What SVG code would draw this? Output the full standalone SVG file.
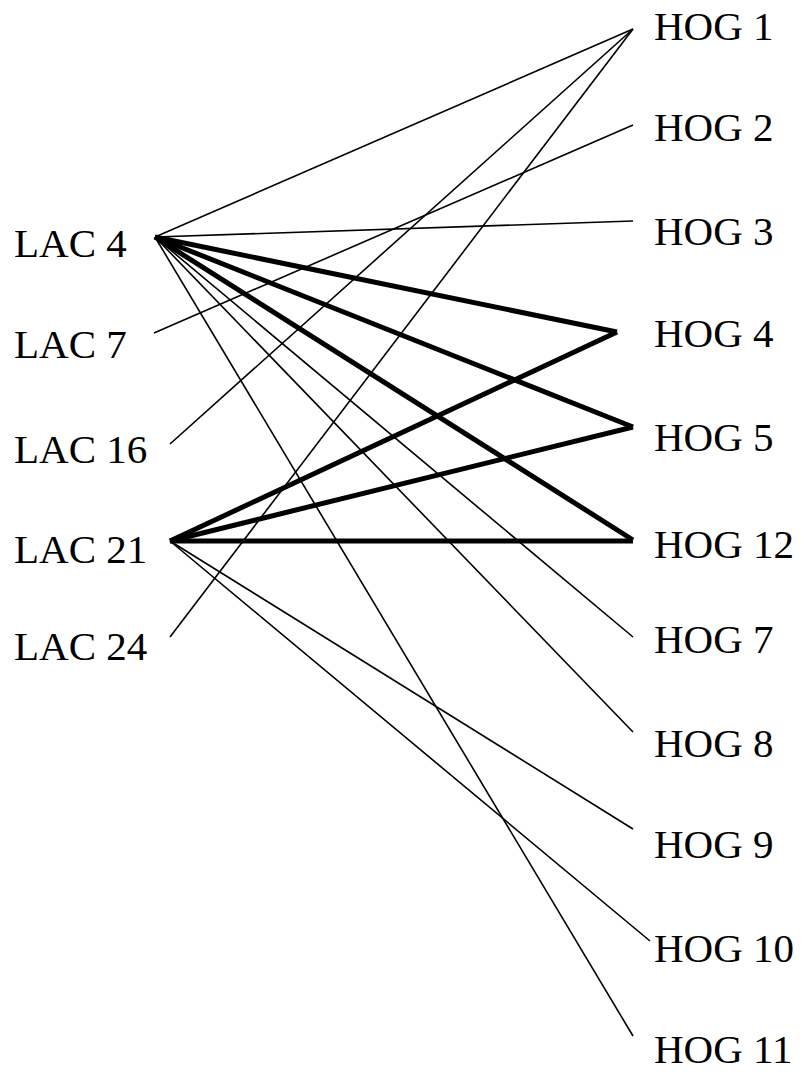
<svg xmlns="http://www.w3.org/2000/svg" width="805" height="1072" viewBox="0 0 805 1072">
<style>
text{font-family:"Liberation Serif","Times New Roman",serif;font-size:41px;fill:#000}
.t{stroke:#000;stroke-width:1.6;fill:none}
.k{stroke:#000;stroke-width:5;fill:none;stroke-linejoin:miter}
</style>
<rect width="805" height="1072" fill="#fff"/>
<g id="connectors">
<line class="t" x1="155" y1="237" x2="633" y2="29"/>
<line class="t" x1="155" y1="237" x2="633" y2="221"/>
<line class="t" x1="155" y1="237" x2="633" y2="637"/>
<line class="t" x1="155" y1="237" x2="633" y2="732"/>
<line class="t" x1="155" y1="237" x2="633" y2="1036"/>
<line class="k" x1="155" y1="237" x2="617" y2="332"/>
<line class="k" x1="155" y1="237" x2="633" y2="427"/>
<line class="k" x1="155" y1="237" x2="633" y2="540"/>
<line class="t" x1="154" y1="333" x2="633" y2="125"/>
<line class="t" x1="170" y1="444" x2="633" y2="29"/>
<line class="t" x1="170" y1="637" x2="633" y2="29"/>
<line class="k" x1="170" y1="541" x2="617" y2="332"/>
<line class="k" x1="170" y1="541" x2="633" y2="427"/>
<line class="k" x1="170" y1="541" x2="633" y2="541"/>
<line class="t" x1="170" y1="541" x2="633" y2="829"/>
<line class="t" x1="170" y1="541" x2="650" y2="941"/>
</g>
<g id="lac4"><text x="14" y="257">LAC 4</text></g>
<g id="lac7"><text x="14" y="358">LAC 7</text></g>
<g id="lac16"><text x="14" y="463">LAC 16</text></g>
<g id="lac21"><text x="14" y="563">LAC 21</text></g>
<g id="lac24"><text x="14" y="660">LAC 24</text></g>
<g id="hog1"><text x="654" y="40">HOG 1</text></g>
<g id="hog2"><text x="654" y="141">HOG 2</text></g>
<g id="hog3"><text x="654" y="245">HOG 3</text></g>
<g id="hog4"><text x="654" y="347">HOG 4</text></g>
<g id="hog5"><text x="654" y="451">HOG 5</text></g>
<g id="hog12"><text x="654" y="558">HOG 12</text></g>
<g id="hog7"><text x="654" y="653">HOG 7</text></g>
<g id="hog8"><text x="654" y="757">HOG 8</text></g>
<g id="hog9"><text x="654" y="858">HOG 9</text></g>
<g id="hog10"><text x="654" y="962">HOG 10</text></g>
<g id="hog11"><text x="654" y="1063">HOG 11</text></g>
</svg>
